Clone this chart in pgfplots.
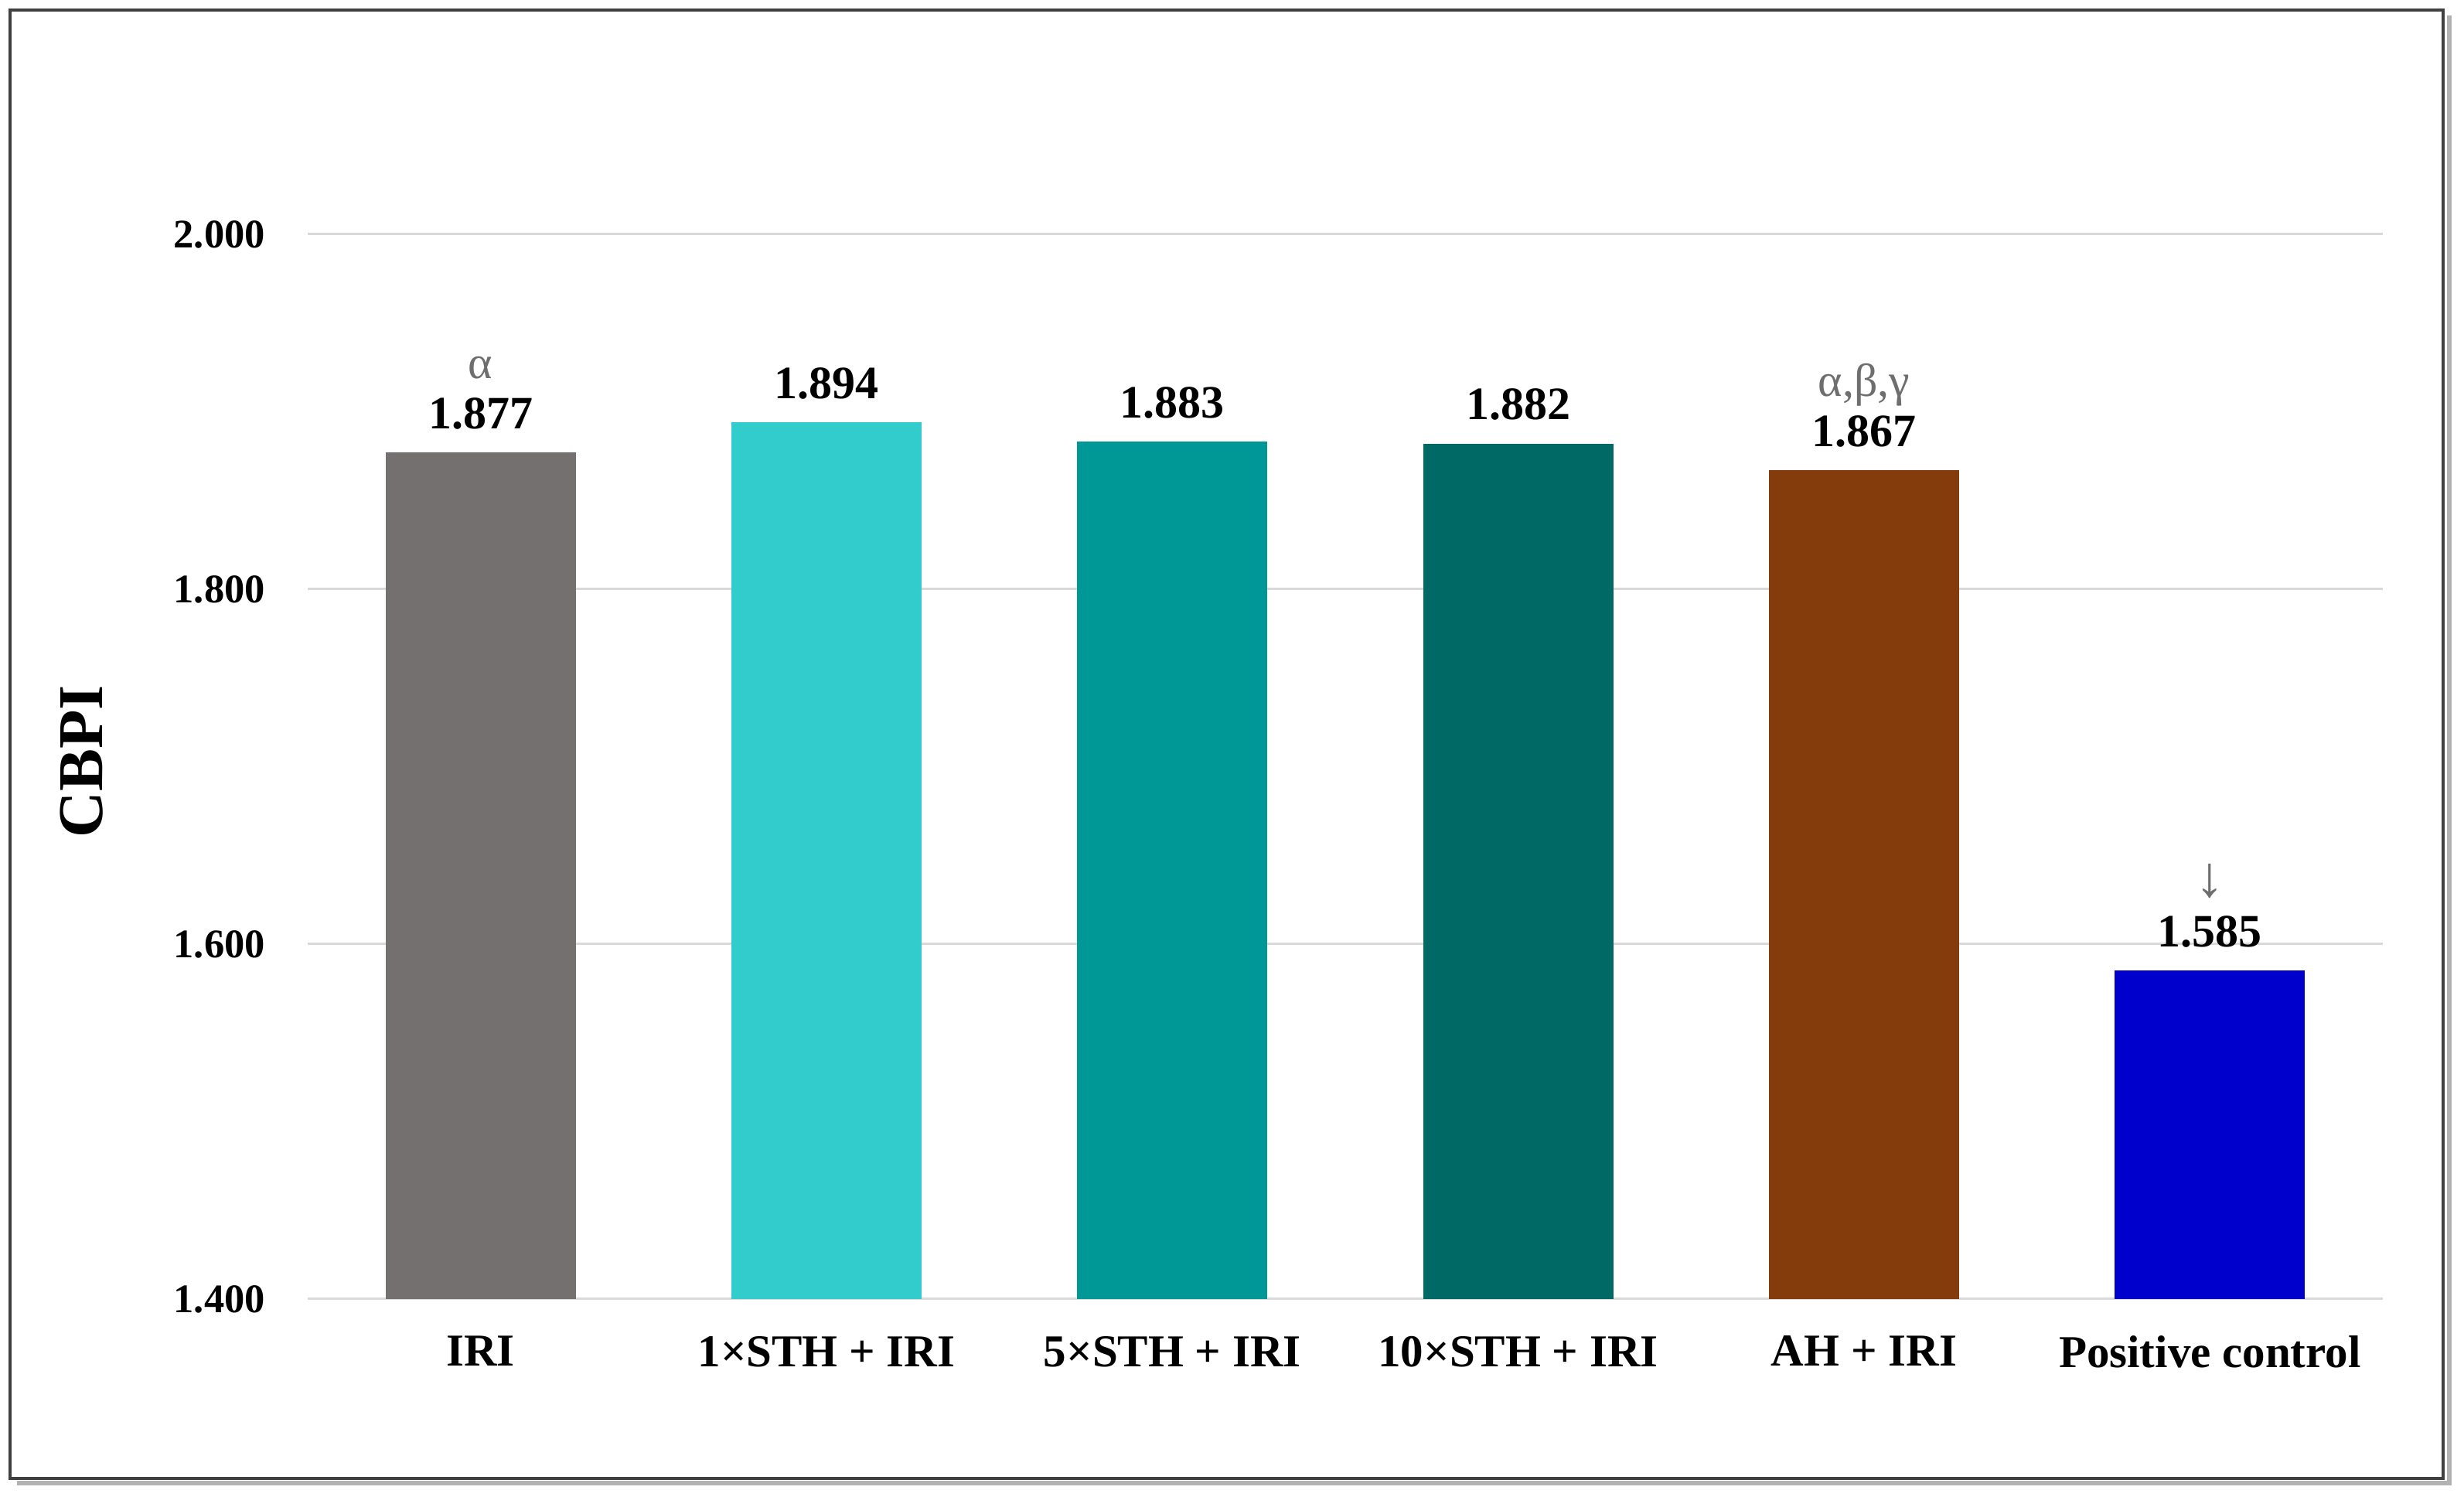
\documentclass[border=0pt]{standalone}
\usepackage{fontspec}
\setmainfont{Liberation Serif}
\usepackage{pgfplots}
\pgfplotsset{compat=1.18}

\definecolor{cIRI}{HTML}{757070}
\definecolor{cOne}{HTML}{33CCCC}
\definecolor{cFive}{HTML}{009897}
\definecolor{cTen}{HTML}{006865}
\definecolor{cAH}{HTML}{843C0C}
\definecolor{cPos}{HTML}{0000CC}
\definecolor{gridc}{HTML}{D9D9D9}
\definecolor{notec}{HTML}{6E6E6E}

\pgfkeys{/pgf/number format/assume math mode=true}

\pgfplotsset{
  mybar/.style={fill=#1, draw=none, bar shift=0pt},
  % value label, with an optional note line on top
  val/.style={nodes near coords={\pgfmathprintnumber[fixed,fixed zerofill,precision=3]{\pgfplotspointmeta}}},
  valnote/.style={nodes near coords={{\color{notec}\mdseries #1}\\\pgfmathprintnumber[fixed,fixed zerofill,precision=3]{\pgfplotspointmeta}}},
}

\begin{document}
\begin{tikzpicture}
\useasboundingbox (0,0) rectangle (637.4pt,387.2pt);
\fill[white] (0,0) rectangle (637.4pt,387.2pt);
% frame with a little shadow
\draw[line width=1.2pt, black!30] (4.4pt,3.6pt) -- (633.6pt,3.6pt) -- (633.6pt,383.2pt);
\draw[line width=0.8pt, black!75] (2.6pt,4.8pt) rectangle (632pt,384.6pt);

\begin{axis}[
    at={(79.6pt,51.2pt)}, anchor=south west,
    scale only axis,
    width=536.8pt, height=275.4pt,
    ybar,
    bar width=0.55,
    xmin=-0.5, xmax=5.5,
    ymin=1.4, ymax=2.0,
    xtick={0,1,2,3,4,5},
    xticklabels={IRI, 1×STH + IRI, 5×STH + IRI, 10×STH + IRI, AH + IRI, Positive control},
    ytick={1.4,1.6,1.8,2.0},
    yticklabel style={/pgf/number format/fixed, /pgf/number format/fixed zerofill, /pgf/number format/precision=3,
      font=\fontsize{10.5}{12}\selectfont\bfseries, xshift=-7.5pt},
    xticklabel style={font=\fontsize{11.8}{13}\selectfont\bfseries, yshift=-1.8pt},
    ylabel={CBPI},
    ylabel style={font=\fontsize{16.5}{18}\selectfont\bfseries, at={(axis description cs:-0.109,0.505)}, anchor=center},
    axis line style={draw=none},
    tick style={draw=none},
    ymajorgrids,
    grid style={gridc, line width=0.6pt},
    clip=false,
    every node near coord/.append style={font=\fontsize{12}{13}\selectfont\bfseries, align=center, text=black, yshift=2.5pt},
]
\addplot[mybar=cIRI, valnote={α}] coordinates {(0,1.877)};
\addplot[mybar=cOne, val] coordinates {(1,1.894)};
\addplot[mybar=cFive, val] coordinates {(2,1.883)};
\addplot[mybar=cTen, val] coordinates {(3,1.882)};
\addplot[mybar=cAH, valnote={α,β,γ}] coordinates {(4,1.867)};
\addplot[mybar=cPos, valnote={\fontsize{15}{14}\selectfont ↓}] coordinates {(5,1.585)};
\end{axis}
\end{tikzpicture}
\end{document}
